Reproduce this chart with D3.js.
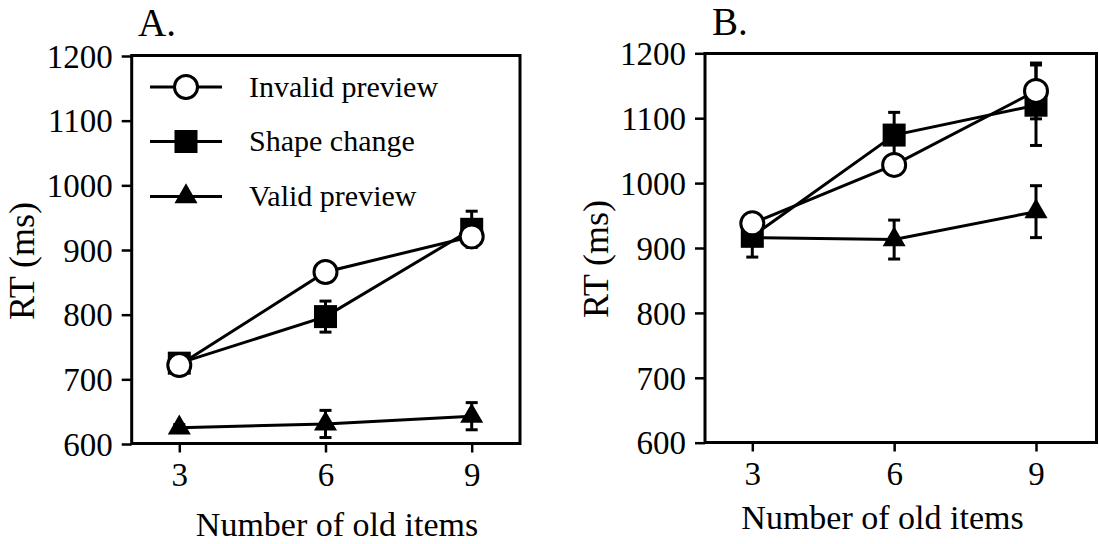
<!DOCTYPE html>
<html>
<head>
<meta charset="utf-8">
<script src="https://cdn.jsdelivr.net/npm/d3@7"></script>
<style>
  html, body { margin: 0; padding: 0; background: #fff; }
  svg { display: block; }
  svg text { font-family: "Liberation Serif", "DejaVu Serif", serif !important; fill: #000; }
</style>
</head>
<body>
<svg id="chart" width="1099" height="544"></svg>
<script>
// ---- data ----
const xValues = [3, 6, 9];
const yTicks = [600, 700, 800, 900, 1000, 1100, 1200];
const seriesNames = ["Invalid preview", "Shape change", "Valid preview"];
const seriesShapes = ["circle", "square", "triangle"];

// Panel A
const aInvalid = [722, 866, 921];
const aInvalidErr = [5, 5, 5];
const aShape = [725, 797, 932];
const aShapeErr = [12, 24, 28];
const aValid = [625, 631, 643];
const aValidErr = [5, 21, 21];

// Panel B
const bInvalid = [938, 1028, 1142];
const bInvalidErr = [8, 8, 43];
const bShape = [918, 1074, 1120];
const bShapeErr = [32, 35, 62];
const bValid = [916, 913, 956];
const bValidErr = [10, 30, 40];

const panelTitles = ["A.", "B."];
const xLabel = "Number of old items";
const yLabel = "RT (ms)";

// ---- drawing ----
const svg = d3.select("#chart");
const FONT = '"Liberation Serif", "DejaVu Serif", serif';

const panels = [
  { title: panelTitles[0], box: { x0: 131.7, x1: 520, y0: 55.5, y1: 443.5 },
    xr: [179.3, 471.7], yr: [444, 56], legend: true,
    titlePos: [138, 36], yLabelPos: [34, 261], xLabelPos: [337, 536],
    data: [[aInvalid, aInvalidErr], [aShape, aShapeErr], [aValid, aValidErr]] },
  { title: panelTitles[1], box: { x0: 705, x1: 1096.5, y0: 53.5, y1: 442.5 },
    xr: [752.3, 1036], yr: [442.7, 53.3], legend: false,
    titlePos: [712, 35], yLabelPos: [608, 259], xLabelPos: [882.5, 529],
    data: [[bInvalid, bInvalidErr], [bShape, bShapeErr], [bValid, bValidErr]] }
];

function drawMarker(g, shape, cx, cy) {
  if (shape === "circle") {
    g.append("circle").attr("cx", cx).attr("cy", cy).attr("r", 11.5)
      .attr("fill", "#fff").attr("stroke", "#000").attr("stroke-width", 3);
  } else if (shape === "square") {
    g.append("rect").attr("x", cx - 11.5).attr("y", cy - 11.5)
      .attr("width", 23).attr("height", 23).attr("fill", "#000");
  } else {
    const sym = d3.symbol().type(d3.symbolTriangle).size(230);
    g.append("path").attr("d", sym()).attr("transform", `translate(${cx},${cy})`)
      .attr("fill", "#000");
  }
}

panels.forEach(p => {
  const x = d3.scaleLinear().domain([3, 9]).range(p.xr);
  const y = d3.scaleLinear().domain([600, 1200]).range(p.yr);
  const g = svg.append("g");

  // y axis ticks
  const yAxis = d3.axisLeft(y).tickValues(yTicks).tickFormat(d3.format("d"))
    .tickSize(10).tickPadding(9);
  const ya = g.append("g").attr("transform", `translate(${p.box.x0},0)`).call(yAxis)
    .attr("font-family", FONT).attr("font-size", 33);
  ya.select(".domain").remove();
  ya.selectAll(".tick line").attr("stroke", "#000").attr("stroke-width", 2.5);
  ya.selectAll(".tick text").attr("dy", "0.34em").attr("fill", "#000");

  // x axis ticks
  const xAxis = d3.axisBottom(x).tickValues(xValues).tickFormat(d3.format("d"))
    .tickSize(9).tickPadding(9);
  const xa = g.append("g").attr("transform", `translate(0,${p.box.y1})`).call(xAxis)
    .attr("font-family", FONT).attr("font-size", 33);
  xa.select(".domain").remove();
  xa.selectAll(".tick line").attr("stroke", "#000").attr("stroke-width", 2.5);
  xa.selectAll(".tick text").attr("dy", "0.75em").attr("fill", "#000");

  // box
  g.append("rect").attr("x", p.box.x0).attr("y", p.box.y0)
    .attr("width", p.box.x1 - p.box.x0).attr("height", p.box.y1 - p.box.y0)
    .attr("fill", "none").attr("stroke", "#000").attr("stroke-width", 3);

  // title
  g.append("text").attr("x", p.titlePos[0]).attr("y", p.titlePos[1])
    .style("font-size", "39px").text(p.title);

  // axis labels
  g.append("text").attr("transform", `translate(${p.yLabelPos[0]},${p.yLabelPos[1]}) rotate(-90)`)
    .attr("text-anchor", "middle").style("font-size", "36px").text(yLabel);
  g.append("text").attr("x", p.xLabelPos[0]).attr("y", p.xLabelPos[1])
    .attr("text-anchor", "middle").style("font-size", "34px").text(xLabel);

  // draw series in order: valid (bottom), shape, invalid (top)
  const order = [2, 1, 0];
  const line = d3.line().x((d, i) => x(xValues[i])).y(d => y(d));
  order.forEach(si => {
    const [vals] = p.data[si];
    g.append("path").datum(vals).attr("d", line)
      .attr("fill", "none").attr("stroke", "#000").attr("stroke-width", 3);
  });
  order.forEach(si => {
    const [vals, errs] = p.data[si];
    const sg = g.append("g");
    vals.forEach((v, i) => {
      const cx = x(xValues[i]);
      const top = y(v + errs[i]), bot = y(v - errs[i]);
      sg.append("line").attr("x1", cx).attr("x2", cx).attr("y1", top).attr("y2", bot)
        .attr("stroke", "#000").attr("stroke-width", 3);
      [top, bot].forEach(yy => sg.append("line").attr("x1", cx - 6).attr("x2", cx + 6)
        .attr("y1", yy).attr("y2", yy).attr("stroke", "#000").attr("stroke-width", 3));
    });
    vals.forEach((v, i) => drawMarker(sg, seriesShapes[si], x(xValues[i]), y(v)));
  });

  // legend
  if (p.legend) {
    const rows = [87, 141.5, 196.5];
    seriesNames.forEach((name, i) => {
      const lg = g.append("g");
      lg.append("line").attr("x1", 150).attr("x2", 222).attr("y1", rows[i]).attr("y2", rows[i])
        .attr("stroke", "#000").attr("stroke-width", 3);
      drawMarker(lg, seriesShapes[i], 186, rows[i]);
      lg.append("text").attr("x", 249).attr("y", rows[i]).attr("dy", "0.33em")
        .style("font-size", "30px").text(name);
    });
  }
});
</script>
</body>
</html>
